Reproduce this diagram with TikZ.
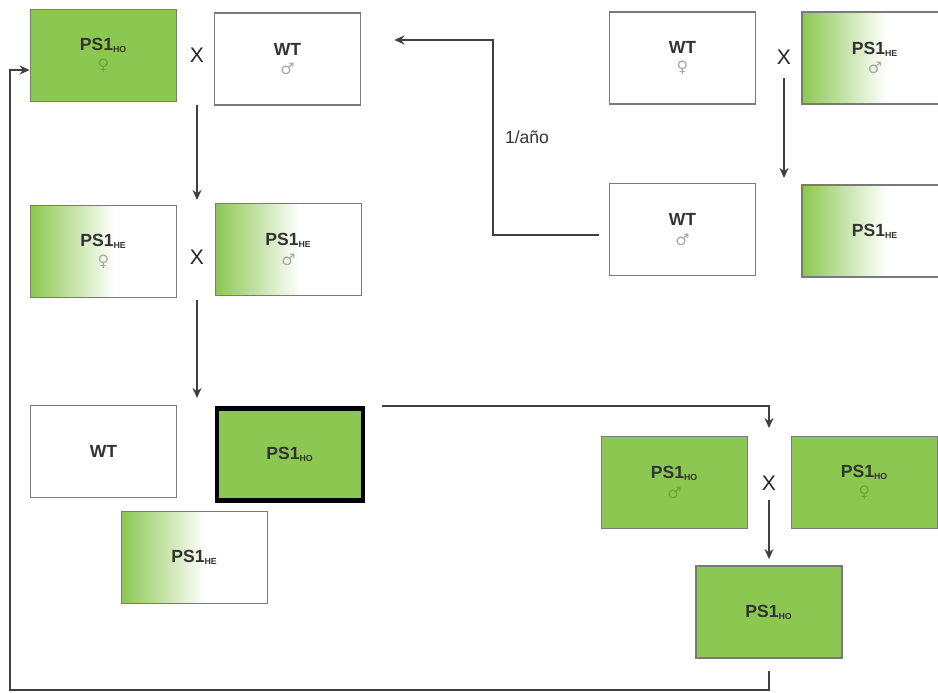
\documentclass[tikz,border=0pt]{standalone}
\usepackage{fontspec}
\setmainfont{Liberation Sans}
\newfontfamily\gsym{DejaVu Sans}
\usetikzlibrary{arrows.meta}
\definecolor{psgreen}{HTML}{8CC751}
\definecolor{boxgray}{HTML}{7A7A7A}
\definecolor{symgray}{HTML}{A8A8A8}
\definecolor{symgreen}{HTML}{6AA838}
\pgfdeclarehorizontalshading{hefade}{100bp}{color(0bp)=(psgreen); color(25bp)=(psgreen); color(54bp)=(white); color(100bp)=(white)}
\newcommand{\gfem}[1]{{\gsym\mdseries\small\color{#1}♀}}
\newcommand{\gmal}[1]{{\gsym\mdseries\small\color{#1}♂}}
\newcommand{\psho}{PS1{\scriptsize\textsubscript{HO}}}
\newcommand{\pshe}{PS1{\scriptsize\textsubscript{HE}}}
\begin{document}
\begin{tikzpicture}[
  box/.style = {draw=boxgray, line width=1pt, minimum width=2.92cm, minimum height=1.84cm,
                align=center, text=black!80, font=\bfseries},
  hobox/.style = {box, fill=psgreen},
  hebox/.style = {box, shading=hefade},
  wtbox/.style = {box, fill=white},
  cross/.style = {font=\large, text=black!85},
  arr/.style = {line width=0.9pt, draw=black!75, -{Stealth[length=2mm,width=1.8mm]}}
]
\clip (0,0) rectangle (18.76,-13.86);
% first cross
\node[hobox] (hofem) at (2.07,-1.11){\psho\\[-1pt]\gfem{symgreen}};
\node[wtbox] (wtmal) at (5.75,-1.18){WT\\[-1pt]\gmal{symgray}};
\node[cross] (xa) at (3.94,-1.10){X};
% founder cross (top right)
\node[wtbox] (wtfem) at (13.65,-1.16){WT\\[-1pt]\gfem{symgray}};
\node[hebox] (hemal) at (17.50,-1.16){\pshe\\[-1pt]\gmal{symgray}};
\node[cross] (xb) at (15.68,-1.14){X};
\node[wtbox] (wtoff) at (13.65,-4.59){WT\\[-1pt]\gmal{symgray}};
\node[hebox] (heoff) at (17.50,-4.62){\pshe};
% second cross
\node[hebox] (hefem) at (2.07,-5.03){\pshe\\[-1pt]\gfem{symgray}};
\node[hebox] (hemalb) at (5.77,-4.99){\pshe\\[-1pt]\gmal{symgray}};
\node[cross] (xc) at (3.94,-5.14){X};
% offspring
\node[wtbox] (wtpup) at (2.07,-9.03){WT};
\node[hobox, draw=black, line width=2.8pt] (hopup) at (5.80,-9.09){\psho};
\node[hebox] (hepup) at (3.89,-11.15){\pshe};
% homozygous colony
\node[hobox] (homal) at (13.49,-9.65){\psho\\[-1pt]\gmal{symgreen}};
\node[hobox] (hofemb) at (17.29,-9.65){\psho\\[-1pt]\gfem{symgreen}};
\node[cross] (xd) at (15.38,-9.66){X};
\node[hobox] (hocol) at (15.38,-12.24){\psho};

\coordinate (c1) at (3.94,-7.96);
\coordinate (c2) at (15.68,-3.56);
\coordinate (bend) at (9.86,-0.80);
\coordinate (topd) at (15.38,-8.56);
\coordinate (loopb) at (0.20,-13.80);

\draw[arr, shorten <=1.0cm, shorten >=1.14cm] (xa.center) -- (xc.center);
\draw[arr, shorten <=0.86cm] (xc.center) -- (c1);
\draw[arr, shorten <=0.42cm] (xb.center) -- (c2);
\draw[arr] ([xshift=-0.2cm,yshift=-0.11cm]wtoff.west) -| (bend) -- ([xshift=0.66cm]wtmal.east |- bend);
\node[text=black!80] (year) at (10.54,-2.74){1/año};
\draw[arr] ([xshift=0.34cm]hopup.north east) -| (topd);
\draw[arr, shorten <=0.34cm, shorten >=0.12cm] (xd.center) -- (hocol.north);
\draw[arr] ([yshift=-0.24cm]hocol.south) |- (loopb) |- ([yshift=-0.29cm]hofem.west);
\end{tikzpicture}
\end{document}
